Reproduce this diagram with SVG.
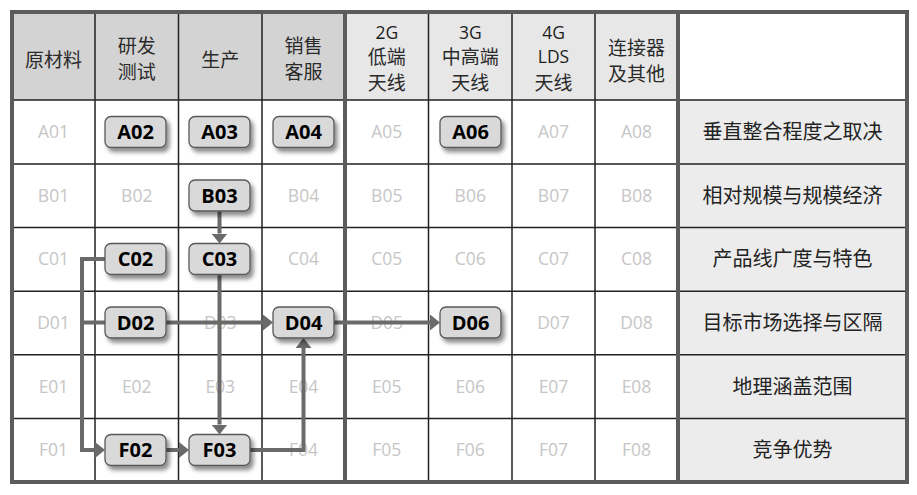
<svg xmlns="http://www.w3.org/2000/svg" width="917" height="495" viewBox="0 0 917 495">
<defs>
<style>
.hd{fill:#d3d3d3}
.hl{fill:#e7e7e7}
.rl{fill:#ececec}
.thin{stroke:#222;stroke-width:1.5;fill:none}
.thick{stroke:#5c5c5c;stroke-width:4;fill:none}
.cj{font-family:"Noto Sans CJK SC",sans-serif;font-size:19px;fill:#2a2a2a;text-anchor:middle}
.la{font-family:"Open Sans","Liberation Sans",sans-serif;font-size:17.5px;fill:#1e1e1e;text-anchor:middle}
.rt{font-family:"Noto Sans CJK SC",sans-serif;font-size:20px;fill:#222;text-anchor:middle}
.gl{font-family:"Open Sans","Liberation Sans",sans-serif;font-size:17.5px;fill:#c6c6c6;text-anchor:middle}
.box{fill:#d9d9d9;stroke:#595959;stroke-width:1.3;filter:url(#sh)}
.bt{font-family:"Open Sans","Liberation Sans",sans-serif;font-size:20px;font-weight:700;fill:#000;text-anchor:middle}
.con{stroke:#6a6a6a;stroke-width:4;fill:none;marker-end:url(#ah)}
.con2{stroke:#6a6a6a;stroke-width:4;fill:none}
</style>
<filter id="sh" x="-20%" y="-30%" width="150%" height="180%">
<feDropShadow dx="3" dy="4" stdDeviation="2" flood-color="#000" flood-opacity="0.45"/>
</filter>
<marker id="ah" viewBox="0 0 10 16" refX="0" refY="8" markerWidth="10" markerHeight="16" markerUnits="userSpaceOnUse" orient="auto">
<path d="M0,0 L10,8 L0,16 z" fill="#6a6a6a"/>
</marker>
</defs>
<rect width="917" height="495" fill="#fff"/>
<g id="table">
<rect class="hd" x="12" y="12" width="333" height="88"/>
<rect class="hl" x="345" y="12" width="333" height="88"/>
<rect class="rl" x="678" y="100" width="229" height="382"/>
<g class="thin">
<path d="M95,12 V482 M178.5,12 V482 M262,12 V482 M428.5,12 V482 M512,12 V482 M595,12 V482"/>
<path d="M12,100 H907 M12,164 H907 M12,227.6 H907 M12,291.2 H907 M12,354.8 H907 M12,418.4 H907"/>
</g>
<g class="thick">
<rect x="12" y="12" width="895" height="470"/>
<path d="M345,12 V482 M678,12 V482"/>
</g>
<g id="headers">
<text class="cj" x="53.5" y="67">原材料</text>
<text class="cj" x="136.75" y="53">研发</text>
<text class="cj" x="136.75" y="79">测试</text>
<text class="cj" x="220.25" y="67">生产</text>
<text class="cj" x="303.5" y="52.5">销售</text>
<text class="cj" x="303.5" y="78.5">客服</text>
<text class="la" x="386.75" y="38.5">2G</text>
<text class="cj" x="386.75" y="64">低端</text>
<text class="cj" x="386.75" y="90">天线</text>
<text class="la" x="470.25" y="38.5">3G</text>
<text class="cj" x="470.25" y="64">中高端</text>
<text class="cj" x="470.25" y="90">天线</text>
<text class="la" x="553.5" y="38.5">4G</text>
<text class="la" x="553.5" y="63">LDS</text>
<text class="cj" x="553.5" y="90">天线</text>
<text class="cj" x="636.5" y="54.5">连接器</text>
<text class="cj" x="636.5" y="80.5">及其他</text>
</g>
<g id="rowlabels">
<text class="rt" x="792.5" y="139">垂直整合程度之取决</text>
<text class="rt" x="792.5" y="202.8">相对规模与规模经济</text>
<text class="rt" x="792.5" y="266.4">产品线广度与特色</text>
<text class="rt" x="792.5" y="330">目标市场选择与区隔</text>
<text class="rt" x="792.5" y="393.6">地理涵盖范围</text>
<text class="rt" x="792.5" y="457.2">竞争优势</text>
</g>
<g id="cells">
<text class="gl" x="53.5" y="138">A01</text>
<text class="gl" x="386.75" y="138">A05</text>
<text class="gl" x="553.5" y="138">A07</text>
<text class="gl" x="636.5" y="138">A08</text>
<text class="gl" x="53.5" y="201.8">B01</text>
<text class="gl" x="136.75" y="201.8">B02</text>
<text class="gl" x="303.5" y="201.8">B04</text>
<text class="gl" x="386.75" y="201.8">B05</text>
<text class="gl" x="470.25" y="201.8">B06</text>
<text class="gl" x="553.5" y="201.8">B07</text>
<text class="gl" x="636.5" y="201.8">B08</text>
<text class="gl" x="53.5" y="265.4">C01</text>
<text class="gl" x="303.5" y="265.4">C04</text>
<text class="gl" x="386.75" y="265.4">C05</text>
<text class="gl" x="470.25" y="265.4">C06</text>
<text class="gl" x="553.5" y="265.4">C07</text>
<text class="gl" x="636.5" y="265.4">C08</text>
<text class="gl" x="53.5" y="329">D01</text>
<text class="gl" x="220.25" y="329">D03</text>
<text class="gl" x="386.75" y="329">D05</text>
<text class="gl" x="553.5" y="329">D07</text>
<text class="gl" x="636.5" y="329">D08</text>
<text class="gl" x="53.5" y="392.6">E01</text>
<text class="gl" x="136.75" y="392.6">E02</text>
<text class="gl" x="220.25" y="392.6">E03</text>
<text class="gl" x="303.5" y="392.6">E04</text>
<text class="gl" x="386.75" y="392.6">E05</text>
<text class="gl" x="470.25" y="392.6">E06</text>
<text class="gl" x="553.5" y="392.6">E07</text>
<text class="gl" x="636.5" y="392.6">E08</text>
<text class="gl" x="53.5" y="456.2">F01</text>
<text class="gl" x="303.5" y="456.2">F04</text>
<text class="gl" x="386.75" y="456.2">F05</text>
<text class="gl" x="470.25" y="456.2">F06</text>
<text class="gl" x="553.5" y="456.2">F07</text>
<text class="gl" x="636.5" y="456.2">F08</text>
</g>
</g>
<g id="connectors">
<path class="con" d="M219.5,211 V233.5"/>
<path class="con" d="M105,259 H82 V450 H95"/>
<path class="con2" d="M82,322.5 H105"/>
<path class="con" d="M166,322.5 H263"/>
<path class="con" d="M334,322.5 H430"/>
<path class="con" d="M219.5,274.5 V424.5"/>
<path class="con" d="M166,450 H179"/>
<path class="con" d="M250,450 H303.5 V348"/>
</g>
<g id="A02"><rect class="box" x="105" y="116.5" width="61" height="31" rx="6"/><text class="bt" x="135.5" y="139">A02</text></g>
<g id="A03"><rect class="box" x="189" y="116.5" width="61" height="31" rx="6"/><text class="bt" x="219.5" y="139">A03</text></g>
<g id="A04"><rect class="box" x="273" y="116.5" width="61" height="31" rx="6"/><text class="bt" x="303.5" y="139">A04</text></g>
<g id="A06"><rect class="box" x="440" y="116.5" width="61" height="31" rx="6"/><text class="bt" x="470.5" y="139">A06</text></g>
<g id="B03"><rect class="box" x="189" y="180" width="61" height="31" rx="6"/><text class="bt" x="219.5" y="202.5">B03</text></g>
<g id="C02"><rect class="box" x="105" y="243.5" width="61" height="31" rx="6"/><text class="bt" x="135.5" y="266">C02</text></g>
<g id="C03"><rect class="box" x="189" y="243.5" width="61" height="31" rx="6"/><text class="bt" x="219.5" y="266">C03</text></g>
<g id="D02"><rect class="box" x="105" y="307" width="61" height="31" rx="6"/><text class="bt" x="135.5" y="329.5">D02</text></g>
<g id="D04"><rect class="box" x="273" y="307" width="61" height="31" rx="6"/><text class="bt" x="303.5" y="329.5">D04</text></g>
<g id="D06"><rect class="box" x="440" y="307" width="61" height="31" rx="6"/><text class="bt" x="470.5" y="329.5">D06</text></g>
<g id="F02"><rect class="box" x="105" y="434.5" width="61" height="31" rx="6"/><text class="bt" x="135.5" y="457">F02</text></g>
<g id="F03"><rect class="box" x="189" y="434.5" width="61" height="31" rx="6"/><text class="bt" x="219.5" y="457">F03</text></g>
</svg>
